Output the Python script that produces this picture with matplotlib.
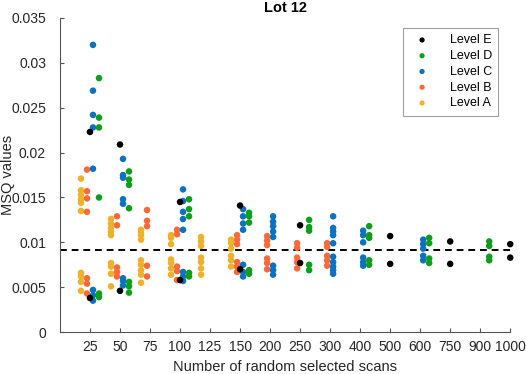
import numpy as np
import matplotlib.pyplot as plt

plt.rcParams['font.family'] = ['Liberation Sans', 'DejaVu Sans']

# x categories (number of random selected scans)
categories = ['25', '50', '75', '100', '125', '150', '200', '250', '300',
              '400', '500', '600', '750', '900', '1000']

# MSQ values per level, one list per category (empty = not measured)
level_a = [
    [0.0171, 0.0158, 0.0153, 0.0148, 0.0144, 0.0135, 0.0066, 0.0062, 0.0056, 0.0046],
    [0.0126, 0.0121, 0.0116, 0.0112, 0.0108, 0.0077, 0.0073, 0.0065, 0.0051],
    [0.0114, 0.0111, 0.0108, 0.0103, 0.0080, 0.0075, 0.0069, 0.0064, 0.0055],
    [0.0108, 0.0105, 0.0098, 0.0081, 0.0077, 0.0071, 0.0064],
    [0.0106, 0.0101, 0.0096, 0.0083, 0.0078, 0.0071, 0.0064],
    [0.0103, 0.0099, 0.0093, 0.0085, 0.0080, 0.0073],
    [], [], [], [], [], [], [], [], [],
]
level_b = [
    [0.0181, 0.0157, 0.0149, 0.0134, 0.0060, 0.0054, 0.0043],
    [0.0129, 0.0119, 0.0072, 0.0067, 0.0062],
    [0.0136, 0.0124, 0.0118, 0.0074, 0.0062],
    [0.0114, 0.0109, 0.0073, 0.0068, 0.0058],
    [],
    [0.0108, 0.0103, 0.0098, 0.0078, 0.0073, 0.0067],
    [0.0107, 0.0102, 0.0097, 0.0082, 0.0077, 0.0070],
    [0.0099, 0.0094, 0.0083, 0.0078, 0.0071],
    [0.0099, 0.0095, 0.0085, 0.0080, 0.0074],
    [], [], [], [], [], [],
]
level_c = [
    [0.0320, 0.0269, 0.0242, 0.0228, 0.0182, 0.0047, 0.0041, 0.0035],
    [0.0193, 0.0175, 0.0172, 0.0148, 0.0143, 0.0060, 0.0057, 0.0052],
    [],
    [0.0159, 0.0146, 0.0134, 0.0126, 0.0114, 0.0067, 0.0062, 0.0057],
    [],
    [0.0137, 0.0129, 0.0121, 0.0114, 0.0075, 0.0067, 0.0062],
    [0.0129, 0.0123, 0.0118, 0.0112, 0.0106, 0.0074, 0.0069, 0.0064],
    [],
    [0.0129, 0.0116, 0.0112, 0.0108, 0.0099, 0.0084, 0.0078, 0.0073, 0.0069, 0.0065],
    [0.0113, 0.0108, 0.0100, 0.0083, 0.0078, 0.0074],
    [],
    [0.0103, 0.0098, 0.0093, 0.0085, 0.0080],
    [], [], [],
]
level_d = [
    [0.0283, 0.0239, 0.0228, 0.0150, 0.0043, 0.0039],
    [0.0179, 0.0170, 0.0164, 0.0138, 0.0056, 0.0051, 0.0044],
    [],
    [0.0148, 0.0137, 0.0129, 0.0066, 0.0062],
    [],
    [0.0133, 0.0129, 0.0122, 0.0069, 0.0065],
    [],
    [0.0125, 0.0117, 0.0113, 0.0075, 0.0069],
    [],
    [0.0118, 0.0108, 0.0105, 0.0080, 0.0075],
    [],
    [0.0105, 0.0099, 0.0082, 0.0077],
    [],
    [0.0101, 0.0096, 0.0084, 0.0080],
    [],
]
level_e = [
    [0.0223, 0.0038],
    [0.0209, 0.0046],
    [],
    [0.0145, 0.0058],
    [],
    [0.0141, 0.0070],
    [],
    [0.0119, 0.0077],
    [], [],
    [0.0107, 0.0076],
    [],
    [0.0101, 0.0076],
    [],
    [0.0098, 0.0083],
]

threshold = 0.0092

levels = [
    ("Level A", level_a, "#F0B12A", -0.3),
    ("Level B", level_b, "#FA6A38", -0.1),
    ("Level C", level_c, "#0A72C0", 0.1),
    ("Level D", level_d, "#0E9F1A", 0.3),
    ("Level E", level_e, "#000000", 0.0),
]

fig = plt.figure(figsize=(5.26, 3.74), dpi=100)
ax = fig.add_axes([0.114, 0.112, 0.856, 0.840])

handles = []
for name, vals, col, off in levels:
    xs, ys = [], []
    for i, v in enumerate(vals):
        xs += [i + 1 + off] * len(v)
        ys += v
    h = ax.scatter(xs, ys, s=22, color=col, edgecolors='none', label=name,
                   clip_on=False, zorder=3)
    handles.append(h)

ax.axhline(threshold, color='black', ls=(0, (3.5, 2.5)), lw=1.4, zorder=2)

ax.set_xlim(0, 15)
ax.set_ylim(0, 0.035)
ax.set_xticks(np.arange(1, 16))
ax.set_xticklabels(categories)
ax.set_yticks(np.arange(0, 0.0351, 0.005))
ax.set_yticklabels(['0', '0.005', '0.01', '0.015', '0.02', '0.025', '0.03', '0.035'])

for s in ['top', 'right']:
    ax.spines[s].set_visible(False)
for s in ['left', 'bottom']:
    ax.spines[s].set_color('#555555')
    ax.spines[s].set_linewidth(0.8)
ax.tick_params(direction='in', length=3, width=0.8, color='#555555',
               labelsize=10, labelcolor='#262626')
ax.tick_params(axis='x', pad=6)
ax.tick_params(axis='y', pad=10)

ax.set_xlabel('Number of random selected scans', fontsize=10.5, color='#262626')
ax.set_ylabel('MSQ values', fontsize=10.5, color='#262626')
ax.yaxis.set_label_coords(-0.1, 0.5)
ax.set_title('Lot 12', fontsize=10.5, fontweight='bold', pad=4)

leg = ax.legend(handles[::-1], [h.get_label() for h in handles[::-1]],
                loc='upper right', bbox_to_anchor=(0.973, 0.968),
                borderaxespad=0, fontsize=9, frameon=True, fancybox=False,
                edgecolor='#888888', labelspacing=0.3, handletextpad=1.2,
                borderpad=0.5, markerscale=0.8)
leg.get_frame().set_linewidth(0.8)

fig.savefig('out.png', dpi=100)
